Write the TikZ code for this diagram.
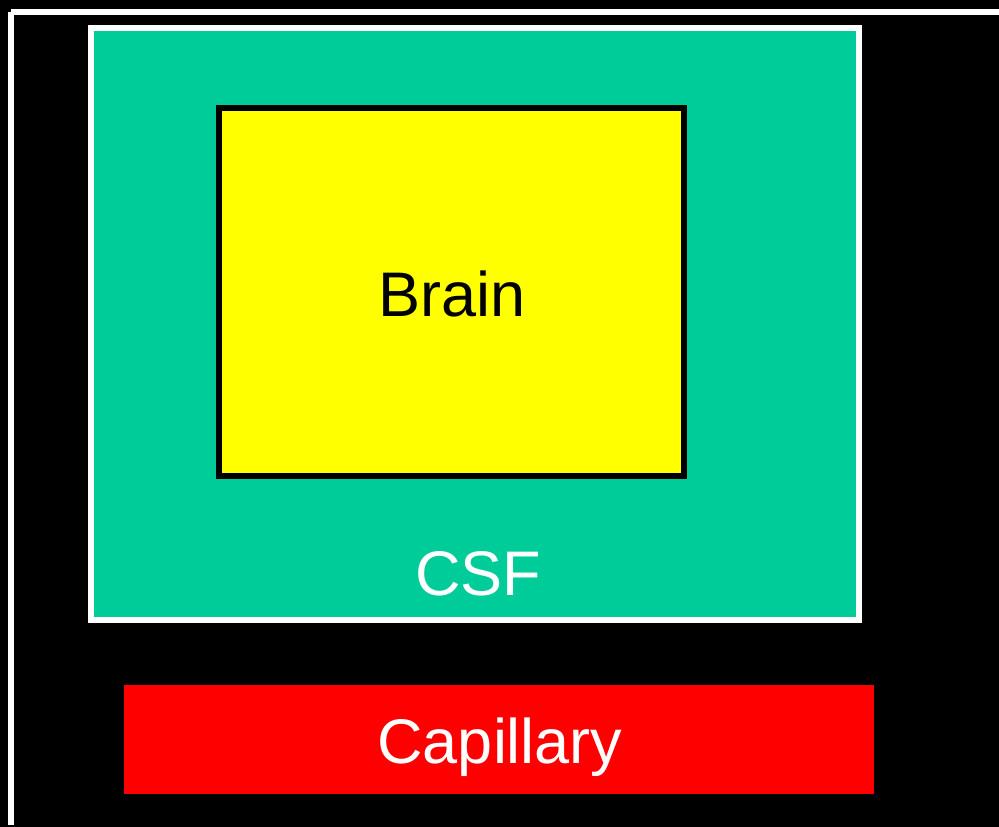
\documentclass[tikz,border=0pt]{standalone}
\usepackage{fontspec}
\setmainfont{Liberation Sans}
\definecolor{csfgreen}{RGB}{0,204,153}
\definecolor{brainyellow}{RGB}{255,255,0}
\definecolor{capred}{RGB}{255,0,0}
\begin{document}
\begin{tikzpicture}[x=1pt,y=-1pt,
  lbl/.style={font=\fontsize{63}{70}\selectfont, anchor=base, inner sep=0pt}]
\useasboundingbox (0,0) rectangle (999,827);
\fill[black] (0,0) rectangle (999,827);
% outer white frame
\draw[white, line width=6pt] (11,12) -- (1010,12);
\draw[white, line width=6pt] (11,12) -- (11,825);
% CSF
\node[draw=white, line width=6pt, fill=csfgreen, minimum width=768pt, minimum height=592pt, inner sep=0pt] (csf) at (475,324) {};
% Brain
\node[draw=black, line width=6pt, fill=brainyellow, minimum width=465pt, minimum height=368pt, inner sep=0pt] (brain) at (451.5,292) {};
% Capillary
\node[fill=capred, minimum width=750pt, minimum height=109pt, inner sep=0pt] (cap) at (499,739.5) {};
\node[lbl, text=black] (brainlbl) at (452,316) {Brain};
\node[lbl, text=white] (csflbl) at (478,595) {CSF};
\node[lbl, text=white] (caplbl) at (500,763) {Capillary};
\end{tikzpicture}
\end{document}
